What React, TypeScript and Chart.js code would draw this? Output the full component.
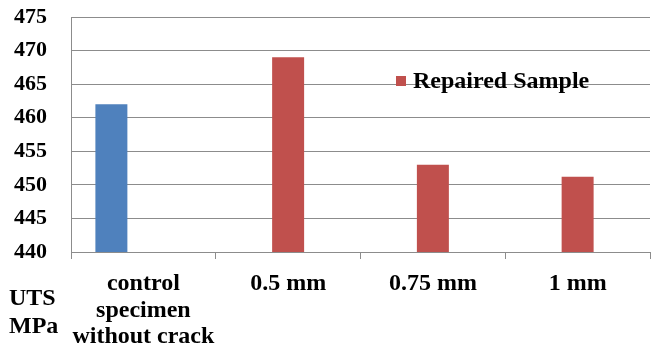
import React, { useEffect, useRef } from "react";
import { Chart, registerables } from "chart.js";

Chart.register(...registerables);

const categories: string[][] = [
  ["control", "specimen", "without crack"],
  ["0.5 mm"],
  ["0.75 mm"],
  ["1 mm"],
];
const controlValues: (number | null)[] = [462, null, null, null];
const repairedValues: (number | null)[] = [null, 469, 453, 451.2];
const emptyValues: (number | null)[] = [null, null, null, null];
const yTicks = { min: 440, max: 475, step: 5 };
const repairedLabel = "Repaired Sample";
const axisTitle = ["UTS", "MPa"];

const BLUE = "#4F81BD";
const RED = "#C0504D";
const GRID = "#8c8c8c";
const FONT = `"Liberation Serif", "Times New Roman", Tinos, "DejaVu Serif", serif`;

export default function App() {
  const ref = useRef<HTMLCanvasElement>(null);

  useEffect(() => {
    document.body.style.margin = "0";
    const canvas = ref.current;
    if (!canvas) return;

    const overlay = {
      id: "overlay",
      afterDraw(chart: any) {
        const ctx = chart.ctx;
        const area = chart.chartArea;
        ctx.save();
        ctx.fillStyle = RED;
        const lx = area.left + 325;
        const ly = area.top + 59;
        ctx.fillRect(lx, ly, 10, 10);
        ctx.fillStyle = "#000";
        ctx.font = `bold 24px ${FONT}`;
        ctx.textBaseline = "middle";
        ctx.textAlign = "left";
        ctx.fillText(repairedLabel, lx + 17, ly + 6);
        ctx.textBaseline = "alphabetic";
        ctx.fillText(axisTitle[0], 9, 305);
        ctx.fillText(axisTitle[1], 9, 333);
        ctx.restore();
      },
    };

    const chart = new Chart(canvas, {
      type: "bar",
      data: {
        labels: categories,
        datasets: [
          { label: "Control", data: controlValues, backgroundColor: BLUE },
          { label: repairedLabel, data: repairedValues, backgroundColor: RED },
          { label: "", data: emptyValues, backgroundColor: RED },
        ],
      },
      options: {
        animation: false,
        responsive: false,
        maintainAspectRatio: false,
        layout: { padding: { top: 17, right: 7, left: 14, bottom: 0 } },
        datasets: {
          bar: { barPercentage: 1, categoryPercentage: 0.663 },
        },
        plugins: {
          legend: { display: false },
          tooltip: { enabled: false },
        },
        scales: {
          x: {
            grid: {
              display: true,
              drawOnChartArea: false,
              drawTicks: true,
              tickLength: 7,
              color: GRID,
            },
            border: { color: GRID },
            ticks: {
              color: "#000",
              padding: 12,
              maxRotation: 0,
              autoSkip: false,
              font: { family: FONT, size: 24, weight: "bold", lineHeight: 1.1 },
            },
            afterFit(scale: any) {
              scale.height = 94;
            },
          },
          y: {
            min: yTicks.min,
            max: yTicks.max,
            grid: { color: GRID, drawTicks: false },
            border: { color: GRID },
            ticks: {
              stepSize: yTicks.step,
              color: "#000",
              padding: 0,
              crossAlign: "far",
              font: { family: FONT, size: 22, weight: "bold" },
            },
            afterFit(scale: any) {
              scale.width = 57;
            },
          },
        },
      },
      plugins: [overlay],
    });

    return () => {
      chart.destroy();
    };
  }, []);

  return (
    <div style={{ width: 657, height: 346 }}>
      <canvas ref={ref} width={657} height={346} />
    </div>
  );
}
